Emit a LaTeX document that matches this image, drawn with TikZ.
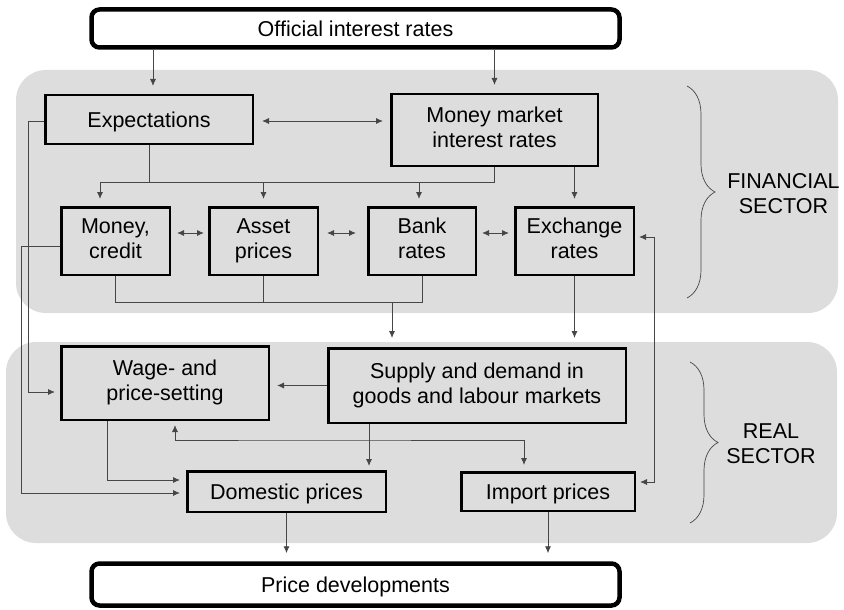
\documentclass[tikz,border=0pt]{standalone}
\usepackage{fontspec}
\setmainfont{Liberation Sans}
\usetikzlibrary{arrows.meta,decorations.pathreplacing,calc}
\definecolor{bggray}{RGB}{221,221,221}
\definecolor{lgray}{RGB}{70,70,70}
\newcommand\boxstrut{\rule[-5pt]{0pt}{26pt}}
\begin{document}
\begin{tikzpicture}[x=1pt,y=-1pt,
  txt/.style={font=\fontsize{21.5}{25}\selectfont},
  region/.style={fill=bggray, rounded corners=30pt, inner sep=0pt},
  box/.style={draw=black, line width=2.5pt, fill=bggray, align=center, inner sep=0pt, txt,
    execute at begin node=\boxstrut, execute at end node=\boxstrut},
  endbox/.style={draw=black, line width=4.5pt, fill=white, rounded corners=8pt, inner sep=0pt, txt, minimum width=528pt,
    execute at begin node=\boxstrut, execute at end node=\boxstrut},
  conn/.style={draw=lgray, line width=0.9pt},
  arr/.style={conn, -{Latex[length=7pt,width=6pt]}},
  darr/.style={conn, {Latex[length=7pt,width=6pt]}-{Latex[length=7pt,width=6pt]}},
  brc/.style={draw=lgray, line width=0.7pt, decorate, decoration={brace, amplitude=28pt}},
  sect/.style={txt, align=center, inner sep=0pt}
]
\useasboundingbox (0,0) rectangle (844,610);
% sector regions
\node[region, minimum width=822pt, minimum height=243pt] (fin) at (427,191.5) {};
\node[region, minimum width=831pt, minimum height=201pt] (real) at (421.5,442.5) {};
% boxes
\node[endbox, minimum height=38pt] (off) at (355.5,28.5) {Official interest rates};
\node[endbox, minimum height=42pt] (pd) at (355.5,584.5) {Price developments};
\node[box, minimum width=207.5pt, minimum height=48.5pt] (exp) at (149,119.5) {Expectations};
\node[box, minimum width=206.5pt, minimum height=71.5pt] (mm) at (494.5,130) {Money market\\interest rates};
\node[box, minimum width=108.5pt, minimum height=67.5pt] (mc) at (115.5,241) {Money,\\credit};
\node[box, minimum width=108.5pt, minimum height=67.5pt] (ap) at (263.5,241) {Asset\\prices};
\node[box, minimum width=107.5pt, minimum height=67.5pt] (br) at (422,241) {Bank\\rates};
\node[box, minimum width=118.5pt, minimum height=67.5pt] (er) at (574.5,241) {Exchange\\rates};
\node[box, minimum width=207.5pt, minimum height=73.5pt] (ws) at (165,383) {Wage- and\\price-setting};
\node[box, minimum width=297.5pt, minimum height=74.5pt] (sd) at (477,385.5) {Supply and demand in\\goods and labour markets};
\node[box, minimum width=198.5pt, minimum height=40.5pt] (dp) at (286.5,491.5) {Domestic prices};
\node[box, minimum width=173.5pt, minimum height=38.5pt] (ip) at (548,491.5) {Import prices};
% sector labels
\draw[brc] (687,86) -- (687,298);
\draw[brc] (690,362) -- (690,523);
\node[sect] (fs) at (783.5,194) {FINANCIAL\\SECTOR};
\node[sect] (rs) at (771,444) {REAL\\SECTOR};
% official rates
\path ([xshift=4pt]exp.north) coordinate (expin);
\draw[arr, shorten >=8pt] (off.south -| expin) -- (expin);
\draw[arr, shorten >=8pt] (off.south -| mm.north) -- (mm.north);
\draw[darr, shorten <=8pt, shorten >=7pt] ([yshift=-1.5pt]exp.east) -- ([yshift=-1.5pt]exp.east -| mm.west);
% bus A
\coordinate (busA) at (100,182);
\draw[conn] (exp.south) -- (exp.south |- busA);
\draw[conn] (busA) -- (busA -| mm.south) -- (mm.south);
\draw[arr, shorten >=7pt] (busA) -- (busA |- mc.north);
\draw[arr, shorten >=7pt] (busA -| ap.north) -- (ap.north);
\path ([xshift=-3pt]br.north) coordinate (brin);
\draw[arr, shorten >=7pt] (busA -| brin) -- (brin);
\draw[arr, shorten >=7pt] (er.north |- mm.south) -- (er.north);
% row links
\draw[darr, shorten <=6pt, shorten >=4pt] ([yshift=8pt]mc.east) -- ([yshift=8pt]ap.west);
\draw[darr, shorten <=8pt, shorten >=11pt] ([yshift=8pt]ap.east) -- ([yshift=8pt]br.west);
\draw[darr, shorten <=5pt, shorten >=5pt] ([yshift=8pt]br.east) -- ([yshift=8pt]er.west);
% bus B
\coordinate (busB) at (392,302);
\draw[conn] (mc.south) |- (busB -| br.south) -- (br.south);
\draw[conn] (ap.south) -- (ap.south |- busB);
\draw[arr, shorten >=9pt] (busB) -- (busB |- sd.north);
\draw[arr, shorten >=9pt] (er.south) -- (er.south |- sd.north);
% right loop
\coordinate (rx) at (654,0);
\path ([yshift=4pt]er.east) coordinate (erin) ([yshift=9.5pt]ip.east) coordinate (ipin);
\draw[darr, shorten <=4pt, shorten >=4pt] (erin) -- (erin -| rx) -- (ipin -| rx) -- (ipin);
% left loops
\coordinate (lx1) at (28,0);
\coordinate (lx2) at (21.5,0);
\path ([yshift=-1.5pt]exp.west) coordinate (expout) ([yshift=-9pt]ws.west) coordinate (wsin);
\draw[arr, shorten >=5pt] (expout) -- (expout -| lx1) -- (wsin -| lx1) -- (wsin);
\path ([yshift=-5pt]mc.west) coordinate (mcout) ([yshift=-1.5pt]dp.west) coordinate (dpin1);
\draw[arr, shorten >=6pt] (mcout) -- (mcout -| lx2) -- (dpin1 -| lx2) -- (dpin1);
\path ([xshift=-58pt]ws.south) coordinate (wsout) ([yshift=11.5pt]dp.west) coordinate (dpin2);
\draw[arr, shorten >=6pt] (wsout) |- (dpin2);
% real sector
\draw[arr, shorten >=7pt] (sd.west) -- (sd.west -| ws.east);
\path ([xshift=-108pt]sd.south) coordinate (sdout);
\draw[arr, shorten >=4pt] (sdout) -- (sdout |- dp.north);
\path ([xshift=10pt]ws.south) coordinate (wsin2) ([xshift=-24pt]ip.north) coordinate (ipin2);
\coordinate (hb) at (300,440);
\draw[darr, shorten <=4pt, shorten >=6pt] (wsin2) |- (hb) -| (ipin2);
% outputs
\draw[arr, shorten >=8pt] (dp.south) -- (dp.south |- pd.north);
\draw[arr, shorten >=8pt] (ip.south) -- (ip.south |- pd.north);
\end{tikzpicture}
\end{document}
